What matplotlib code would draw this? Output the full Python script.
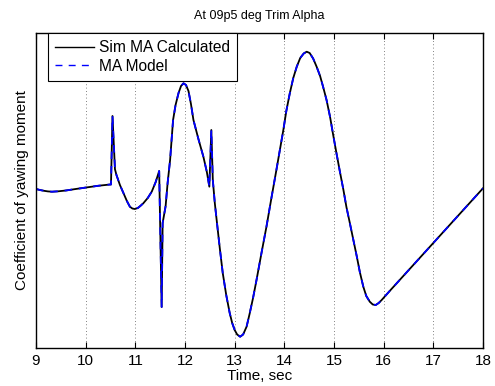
import matplotlib
matplotlib.use("Agg")
import matplotlib.pyplot as plt

plt.rcParams['font.family'] = ['Liberation Sans', 'DejaVu Sans']

time_sec = [9.00, 9.08, 9.16, 9.24, 9.32, 9.45, 9.60, 9.80, 10.01, 10.25,
            10.49, 10.51, 10.54, 10.59, 10.62, 10.69, 10.76, 10.83, 10.89, 10.94,
            10.99, 11.05, 11.10, 11.16, 11.25, 11.33, 11.41, 11.48, 11.53, 11.55,
            11.61, 11.65, 11.70, 11.76, 11.81, 11.87, 11.92, 11.97, 12.02, 12.07,
            12.12, 12.17, 12.27, 12.37, 12.44, 12.49, 12.53, 12.56, 12.60, 12.63,
            12.70, 12.76, 12.83, 12.90, 12.95, 13.00, 13.05, 13.11, 13.17, 13.24,
            13.30, 13.37, 13.44, 13.54, 13.64, 13.74, 13.84, 13.91, 13.98, 14.04,
            14.11, 14.18, 14.25, 14.32, 14.39, 14.45, 14.51, 14.58, 14.65, 14.72,
            14.78, 14.85, 14.92, 14.98, 15.05, 15.12, 15.19, 15.25, 15.32, 15.39,
            15.46, 15.52, 15.59, 15.65, 15.72, 15.78, 15.84, 15.90, 15.96, 16.11,
            18.00]

sim_ma_calculated = [159, 158, 157.2, 156.6, 156.3, 156.7, 157.5, 159, 160.5, 162.2,
                     163.5, 163.5, 232, 178.7, 173, 163, 155, 147, 141.3, 139.5,
                     139, 140, 142, 144.7, 150, 156.3, 166, 177, 41, 125,
                     142, 165, 188, 228, 243, 255, 262, 264.7, 263, 257,
                     244, 228, 209, 191.3, 176, 161.3, 218, 168, 145, 131.3,
                     100, 75, 53, 35, 25, 18, 13.5, 11.3, 13.5, 21.3,
                     34, 50, 68, 95, 121.3, 150, 178, 198, 218, 237,
                     254.7, 270, 281.3, 290, 294.5, 296.3, 295, 289.5, 281.3, 272,
                     261.3, 248, 231.3, 214, 194.7, 176, 158, 141, 124.7, 108,
                     91.3, 76, 61.3, 52, 46.3, 43.5, 43, 45, 48, 56.4,
                     159.7]

ma_model = [159, 158, 157.2, 156.6, 156.3, 156.7, 157.5, 159, 160.5, 162.2,
            163.5, 163.5, 232, 178.7, 173, 163, 155, 147, 141.3, 139.5,
            139, 140, 142, 144.7, 150, 156.3, 166, 177, 41, 125,
            142, 165, 188, 228, 243, 255, 262, 264.7, 263, 257,
            244, 228, 209, 191.3, 176, 161.3, 218, 168, 145, 131.3,
            100, 75, 53, 35, 25, 18, 13.5, 11.3, 13.5, 21.3,
            34, 50, 68, 95, 121.3, 150, 178, 198, 218, 237,
            254.7, 270, 281.3, 290, 294.5, 296.3, 295, 289.5, 281.3, 272,
            261.3, 248, 231.3, 214, 194.7, 176, 158, 141, 124.7, 108,
            91.3, 76, 61.3, 52, 46.3, 43.5, 43, 45, 48, 56.4,
            159.7]

x_ticks = [9, 10, 11, 12, 13, 14, 15, 16, 17, 18]

fig = plt.figure(figsize=(4.95, 3.86), dpi=100)
ax = fig.add_axes([36/495, 38/386, 447/495, 315/386])

ax.plot(time_sec, sim_ma_calculated, color='black', lw=1.3, label='Sim MA Calculated')
ax.plot(time_sec, ma_model, color='blue', lw=1.3, ls=(0, (4.2, 3.8)), label='MA Model')

ax.set_xlim(9, 18)
ax.set_ylim(0, 315)
ax.set_xticks(x_ticks)
ax.set_xticklabels([str(t) for t in x_ticks], fontsize=11)
ax.set_yticks([])
ax.tick_params(axis='x', direction='in', top=True, bottom=True, length=4, width=0.8, pad=4)
ax.grid(True, axis='x', color='0.35', linestyle=(0, (1, 3)), lw=0.6)
for s in ax.spines.values():
    s.set_linewidth(1.0)

ax.set_xlabel('Time, sec', fontsize=11, labelpad=1)
ax.set_ylabel('Coefficient of yawing moment', fontsize=11, labelpad=5)
ax.set_title('At 09p5 deg Trim Alpha', fontsize=9, pad=10)

leg = ax.legend(loc='upper left', bbox_to_anchor=(12/447, 1.0), borderaxespad=0,
                fontsize=11.2, frameon=True, fancybox=False, handlelength=2.5,
                labelspacing=0.25, borderpad=0.45, handletextpad=0.3)
leg.get_frame().set_edgecolor('black')
leg.get_frame().set_linewidth(0.8)
leg.get_frame().set_alpha(1)
for h in leg.get_lines():
    h.set_linewidth(1.0)
leg.get_lines()[1].set_dashes((5, 4.5))

fig.savefig('out.png', dpi=100)
